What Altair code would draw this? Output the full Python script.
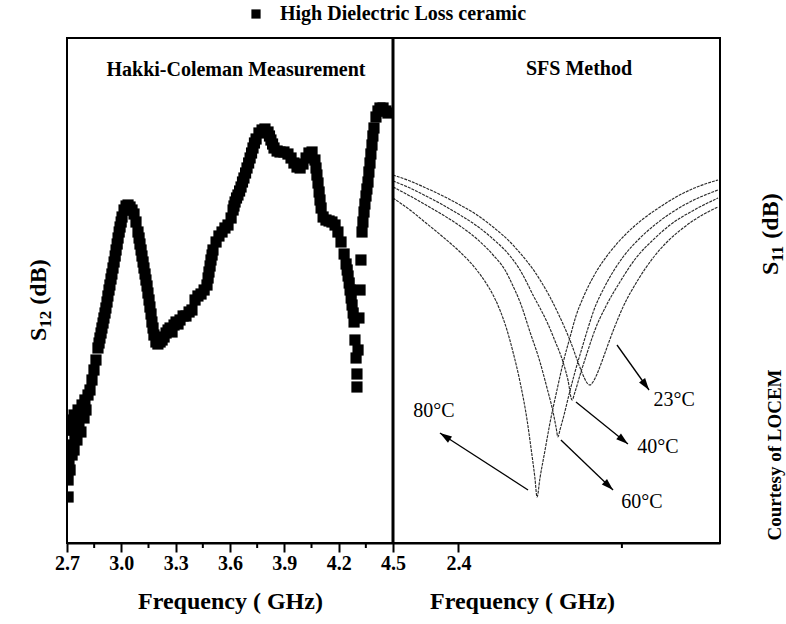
import math
import altair as alt
import pandas as pd

# ---------------- data ----------------
# Left panel: Hakki-Coleman measurement, S12 (dB) vs frequency (GHz)
hc_freq = [2.706, 2.706, 2.711, 2.711, 2.717, 2.722, 2.722, 2.728, 2.733, 2.739,
           2.739, 2.744, 2.750, 2.755, 2.761, 2.766, 2.772, 2.777, 2.783, 2.794,
           2.799, 2.805, 2.816, 2.827, 2.838, 2.849, 2.860, 2.871, 2.882, 2.893,
           2.904, 2.915, 2.926, 2.937, 2.948, 2.960, 2.971, 2.982, 2.993, 3.004,
           3.015, 3.026, 3.037, 3.048, 3.059, 3.070, 3.081, 3.092, 3.103, 3.114,
           3.125, 3.136, 3.147, 3.158, 3.169, 3.180, 3.191, 3.202, 3.214, 3.225,
           3.236, 3.247, 3.258, 3.269, 3.280, 3.291, 3.302, 3.313, 3.324, 3.341,
           3.357, 3.374, 3.390, 3.407, 3.423, 3.440, 3.457, 3.473, 3.484, 3.495,
           3.506, 3.523, 3.539, 3.556, 3.572, 3.589, 3.606, 3.617, 3.628, 3.644,
           3.661, 3.677, 3.694, 3.711, 3.727, 3.744, 3.760, 3.777, 3.793, 3.810,
           3.826, 3.843, 3.860, 3.876, 3.898, 3.920, 3.937, 3.953, 3.970, 3.987,
           4.003, 4.020, 4.036, 4.053, 4.069, 4.080, 4.092, 4.103, 4.114, 4.130,
           4.147, 4.163, 4.180, 4.196, 4.213, 4.230, 4.241, 4.252, 4.263, 4.274,
           4.285, 4.290, 4.296, 4.301, 4.301, 4.307, 4.312, 4.318, 4.323, 4.329,
           4.340, 4.351, 4.362, 4.373, 4.384, 4.395, 4.406, 4.417, 4.428, 4.445,
           4.461, 4.472]
hc_s12 = [-55.9, -54.2, -52.2, -49.2, -53.2, -50.7, -48.2, -51.7, -49.2, -51.2,
          -47.7, -49.7, -48.2, -50.2, -47.2, -48.7, -47.7, -49.4, -46.7, -48.0,
          -46.2, -47.2, -45.7, -45.2, -44.2, -43.2, -42.2, -41.0, -40.0, -39.0,
          -38.0, -37.0, -35.8, -34.7, -33.6, -32.4, -31.2, -30.0, -28.9, -27.9,
          -27.2, -26.8, -26.7, -26.9, -27.2, -27.6, -28.4, -29.4, -30.6, -31.8,
          -33.0, -34.2, -35.5, -36.9, -38.4, -39.7, -40.4, -40.6, -40.4, -40.2,
          -39.9, -39.5, -39.2, -39.0, -39.4, -38.7, -38.4, -38.6, -38.2, -37.8,
          -37.8, -37.4, -37.2, -36.2, -35.8, -35.6, -35.2, -34.7, -33.4, -32.2,
          -31.2, -30.4, -29.8, -29.4, -29.0, -28.7, -28.0, -27.2, -26.4, -25.7,
          -24.9, -24.0, -23.0, -22.0, -21.0, -20.1, -19.5, -19.2, -19.1, -19.4,
          -20.2, -21.0, -21.3, -21.4, -21.4, -21.6, -22.0, -22.5, -22.9, -23.0,
          -22.6, -22.0, -21.5, -21.4, -22.2, -23.7, -25.4, -27.0, -27.9, -28.2,
          -28.3, -28.4, -28.7, -29.4, -30.4, -31.6, -32.6, -33.8, -35.2, -36.7,
          -38.4, -40.2, -42.0, -43.6, -44.9, -41.2, -38.0, -35.2, -32.2, -29.4,
          -27.4, -25.8, -24.4, -22.5, -20.7, -19.0, -17.9, -17.3, -17.0, -17.0,
          -17.3, -17.5]
# further readings along the steep flanks of the measured band
hc_flank_freq = [2.877, 2.888, 2.899, 2.910, 2.921, 2.932, 2.943, 2.954, 2.966, 2.977,
                 2.988, 2.999, 3.098, 3.109, 3.120, 3.131, 3.142, 3.153, 3.164, 3.175,
                 3.479, 3.490, 3.501, 3.622, 3.636, 3.653, 3.669, 3.686, 3.703, 3.719,
                 3.735, 3.818, 3.835, 4.075, 4.086, 4.097, 4.247, 4.258, 4.269, 4.280,
                 4.334, 4.345, 4.356, 4.367, 4.378, 4.389]
hc_flank_s12 = [-40.5, -39.5, -38.5, -37.5, -36.4, -35.2, -34.1, -33.0, -31.8, -30.6,
                -29.4, -28.4, -30.0, -31.2, -32.4, -33.6, -34.8, -36.2, -37.6, -39.0,
                -34.0, -32.8, -31.7, -26.8, -26.0, -25.3, -24.4, -23.5, -22.5, -21.5,
                -20.5, -19.8, -20.6, -23.0, -24.5, -26.2, -33.2, -34.5, -36.0, -37.5,
                -28.4, -26.6, -25.1, -23.4, -21.6, -19.8]
series_name = "High Dielectric Loss ceramic"

# Right panel: SFS method, S11 (dB) vs frequency (GHz)
t80_freq = [2.3600, 2.3704, 2.3802, 2.3906, 2.4010, 2.4102, 2.4169, 2.4212, 2.4254, 2.4297,
            2.4334, 2.4377, 2.4420, 2.4444, 2.4468, 2.4481, 2.4499, 2.4530, 2.4560, 2.4603,
            2.4640, 2.4683, 2.4719, 2.4762, 2.4835, 2.4927, 2.5025, 2.5129, 2.5233, 2.5331,
            2.5459, 2.5588]
t80_s11 = [-16.0, -17.2, -18.5, -19.9, -21.4, -23.0, -24.5, -25.7, -27.2, -29.2,
           -31.4, -34.4, -38.2, -41.0, -44.0, -45.9, -44.0, -41.2, -38.5, -35.2,
           -32.5, -29.9, -27.8, -26.0, -23.6, -21.4, -19.6, -18.1, -16.9, -15.9,
           -14.9, -14.2]
t60_freq = [2.3600, 2.3704, 2.3802, 2.3906, 2.4010, 2.4114, 2.4212, 2.4285, 2.4334, 2.4377,
            2.4438, 2.4499, 2.4542, 2.4579, 2.4597, 2.4609, 2.4621, 2.4646, 2.4676, 2.4713,
            2.4756, 2.4793, 2.4829, 2.4897, 2.5007, 2.5111, 2.5208, 2.5392, 2.5588]
t60_s11 = [-14.9, -15.8, -16.7, -17.7, -18.8, -20.1, -21.7, -23.2, -24.8, -26.4,
           -29.4, -32.4, -35.0, -37.4, -38.9, -39.9, -39.2, -37.7, -35.7, -33.4,
           -31.0, -29.0, -27.2, -24.8, -21.9, -20.0, -18.6, -16.6, -15.2]
t40_freq = [2.3600, 2.3704, 2.3802, 2.3906, 2.4010, 2.4114, 2.4212, 2.4316, 2.4377, 2.4420,
            2.4456, 2.4499, 2.4542, 2.4591, 2.4640, 2.4670, 2.4695, 2.4713, 2.4744, 2.4787,
            2.4835, 2.4903, 2.4988, 2.5086, 2.5190, 2.5294, 2.5453, 2.5588]
t40_s11 = [-14.3, -15.0, -15.8, -16.7, -17.7, -18.8, -20.1, -21.8, -23.2, -24.5,
           -25.7, -27.0, -28.4, -30.3, -32.4, -34.2, -36.2, -35.4, -33.7, -31.5,
           -29.2, -26.8, -24.4, -22.0, -20.2, -18.7, -17.1, -16.0]
t23_freq = [2.3600, 2.3704, 2.3802, 2.3906, 2.4010, 2.4114, 2.4212, 2.4316, 2.4413, 2.4468,
            2.4511, 2.4560, 2.4603, 2.4640, 2.4689, 2.4731, 2.4762, 2.4787, 2.4805, 2.4823,
            2.4848, 2.4872, 2.4903, 2.4946, 2.5007, 2.5098, 2.5190, 2.5282, 2.5374, 2.5514,
            2.5588]
t23_s11 = [-13.7, -14.3, -15.0, -15.8, -16.7, -17.7, -18.9, -20.4, -22.2, -23.4,
           -24.5, -25.9, -27.3, -28.6, -30.5, -32.4, -33.7, -34.5, -34.7, -34.4,
           -33.6, -32.6, -31.2, -29.3, -26.9, -24.2, -22.0, -20.3, -19.0, -17.5,
           -16.9]

# temperature annotations (arrow from dip -> label)
ann_label = ["23°C", "40°C", "60°C", "80°C"]
ann_from_freq = [2.4970, 2.4719, 2.4627, 2.4426]
ann_from_s11 = [-30.7, -36.4, -40.2, -45.2]
ann_to_freq = [2.5166, 2.5037, 2.4946, 2.3887]
ann_to_s11 = [-35.2, -40.6, -45.2, -39.5]
ann_text_freq = [2.5319, 2.5221, 2.5123, 2.3851]
ann_text_s11 = [-36.2, -40.9, -46.4, -37.3]

# ticks
left_ticks = [2.7, 3.0, 3.3, 3.6, 3.9, 4.2, 4.5]
left_minor = [2.85, 3.15, 3.45, 3.75, 4.05, 4.35]
right_ticks = [2.4]
right_minor = [2.5]

# ---------------- layout ----------------
W_L, W_R, H = 326, 327, 505
W = W_L + W_R
LX, RX = [2.7, 4.5], [2.36, 2.56]
LY, RY = [-60.5, -10.0], [-50.5, 0.0]
FONT = "Liberation Serif"


def xl():
    return alt.Scale(domain=LX, range=[0, W_L], nice=False, zero=False)


def xr():
    return alt.Scale(domain=RX, range=[W_L, W], nice=False, zero=False)


def yl():
    return alt.Scale(domain=LY, nice=False, zero=False)


def yr():
    return alt.Scale(domain=RY, nice=False, zero=False)


axis_common = dict(
    orient="bottom", grid=False, domainColor="black", domainWidth=2,
    tickColor="black", tickWidth=2, tickSize=9,
    labelFont=FONT, labelFontSize=20, labelFontWeight="bold", labelColor="black",
    labelPadding=1, labelOverlap=False, labelFlush=False,
    titleFont=FONT, titleFontSize=24, titleFontWeight="bold", titleColor="black",
    titlePadding=16,
)

# left scatter
hc_df = pd.concat([
    pd.DataFrame({"f": hc_freq, "s": hc_s12}),
    pd.DataFrame({"f": hc_flank_freq, "s": hc_flank_s12}),
])
hc_df["series"] = series_name
scatter = alt.Chart(hc_df).mark_square(size=125, opacity=1, clip=True).encode(
    x=alt.X("f:Q", scale=xl(),
            axis=alt.Axis(values=left_ticks, format=".1f", title="Frequency ( GHz)", **axis_common)),
    y=alt.Y("s:Q", scale=yl(), axis=None),
    color=alt.Color("series:N", scale=alt.Scale(range=["black"]), title="",
                    legend=alt.Legend(orient="none", legendX=179, legendY=-34, padding=0,
                                      symbolType="square", symbolSize=85, symbolStrokeWidth=0,
                                      labelFont=FONT, labelFontSize=20, labelFontWeight="bold",
                                      labelColor="black", labelOffset=14, labelLimit=500)),
)

minor_l = alt.Chart(pd.DataFrame({"f": left_minor})).mark_rule(color="black", strokeWidth=2).encode(
    x=alt.X("f:Q", scale=xl(), axis=None), y=alt.value(H), y2=alt.value(H + 5))

# right curves
curve_df = pd.concat([
    pd.DataFrame({"f": t23_freq, "s": t23_s11, "T": "23°C"}),
    pd.DataFrame({"f": t40_freq, "s": t40_s11, "T": "40°C"}),
    pd.DataFrame({"f": t60_freq, "s": t60_s11, "T": "60°C"}),
    pd.DataFrame({"f": t80_freq, "s": t80_s11, "T": "80°C"}),
])
curves = alt.Chart(curve_df).mark_line(color="#2a2a2a", strokeWidth=1.15, strokeDash=[3, 1],
                                        interpolate="monotone", clip=True).encode(
    x=alt.X("f:Q", scale=xr(),
            axis=alt.Axis(values=right_ticks, format=".1f", title="Frequency ( GHz)",
                          titleX=455, **axis_common)),
    y=alt.Y("s:Q", scale=yr(), axis=None),
    detail="T:N",
)

minor_r = alt.Chart(pd.DataFrame({"f": right_minor})).mark_rule(color="black", strokeWidth=2).encode(
    x=alt.X("f:Q", scale=xr(), axis=None), y=alt.value(H), y2=alt.value(H + 5))

# arrows
px_per_ghz = W_R / (RX[1] - RX[0])
px_per_db = H / (RY[1] - RY[0])
angles = []
for f1, s1, f2, s2 in zip(ann_from_freq, ann_from_s11, ann_to_freq, ann_to_s11):
    dx = (f2 - f1) * px_per_ghz
    dy = -(s2 - s1) * px_per_db
    angles.append(math.degrees(math.atan2(dx, -dy)) % 360)
ann_df = pd.DataFrame({"f1": ann_from_freq, "s1": ann_from_s11, "f2": ann_to_freq,
                       "s2": ann_to_s11, "ang": angles, "lab": ann_label,
                       "tf": ann_text_freq, "ts": ann_text_s11})

arrow_lines = alt.Chart(ann_df).mark_rule(color="black", strokeWidth=1.3).encode(
    x=alt.X("f1:Q", scale=xr(), axis=None), x2="f2:Q",
    y=alt.Y("s1:Q", scale=yr(), axis=None), y2="s2:Q")

arrow_heads = alt.Chart(ann_df).mark_point(shape="M0,0L0.62,2L-0.62,2Z", filled=True, size=144,
                                           color="black", opacity=1, strokeWidth=0).encode(
    x=alt.X("f2:Q", scale=xr(), axis=None),
    y=alt.Y("s2:Q", scale=yr(), axis=None),
    angle=alt.Angle("ang:Q", scale=alt.Scale(domain=[0, 360], range=[0, 360])))

ann_text = alt.Chart(ann_df).mark_text(font=FONT, fontSize=20, color="black",
                                       align="center", baseline="middle").encode(
    x=alt.X("tf:Q", scale=xr(), axis=None),
    y=alt.Y("ts:Q", scale=yr(), axis=None),
    text="lab:N")

# frame divider
divider = alt.Chart(pd.DataFrame({"d": [0]})).mark_rule(color="black", strokeWidth=3).encode(
    x=alt.value(W_L), y=alt.value(0), y2=alt.value(H))


def txt(s, x, y, size, weight="bold", angle=0, align="center", baseline="middle"):
    return alt.Chart(pd.DataFrame({"t": [s]})).mark_text(
        font=FONT, fontSize=size, fontWeight=weight, angle=angle, align=align,
        baseline=baseline, color="black").encode(text="t:N", x=alt.value(x), y=alt.value(y))


texts = [
    txt("Hakki-Coleman Measurement", 169, 32, 20),
    txt("SFS Method", 512, 31, 20),
    # left y title S12 (dB)
    txt("S", -21, 303, 24, angle=270, align="left", baseline="alphabetic"),
    txt("12", -16, 289.7, 17, angle=270, align="left", baseline="alphabetic"),
    txt("(dB)", -21, 266.7, 24, angle=270, align="left", baseline="alphabetic"),
    # right y title S11 (dB)
    txt("S", 711, 237, 24, angle=270, align="left", baseline="alphabetic"),
    txt("11", 716, 223.7, 17, angle=270, align="left", baseline="alphabetic"),
    txt("(dB)", 711, 200.7, 24, angle=270, align="left", baseline="alphabetic"),
    txt("Courtesy of LOCEM", 714, 417, 19, angle=270, align="center", baseline="alphabetic"),
]

chart = alt.layer(
    scatter, minor_l, curves, minor_r, arrow_lines, arrow_heads, ann_text, divider, *texts
).resolve_scale(
    x="independent", y="independent"
).resolve_axis(
    x="independent", y="independent"
).properties(
    width=W, height=H,
    autosize=alt.AutoSizeParams(type="none"),
    padding={"left": 67, "top": 38, "right": 66, "bottom": 81},
    background="white",
).configure_view(
    stroke="black", strokeWidth=2
)

chart.save("out.html", embed_options={"renderer": "svg", "actions": False})
